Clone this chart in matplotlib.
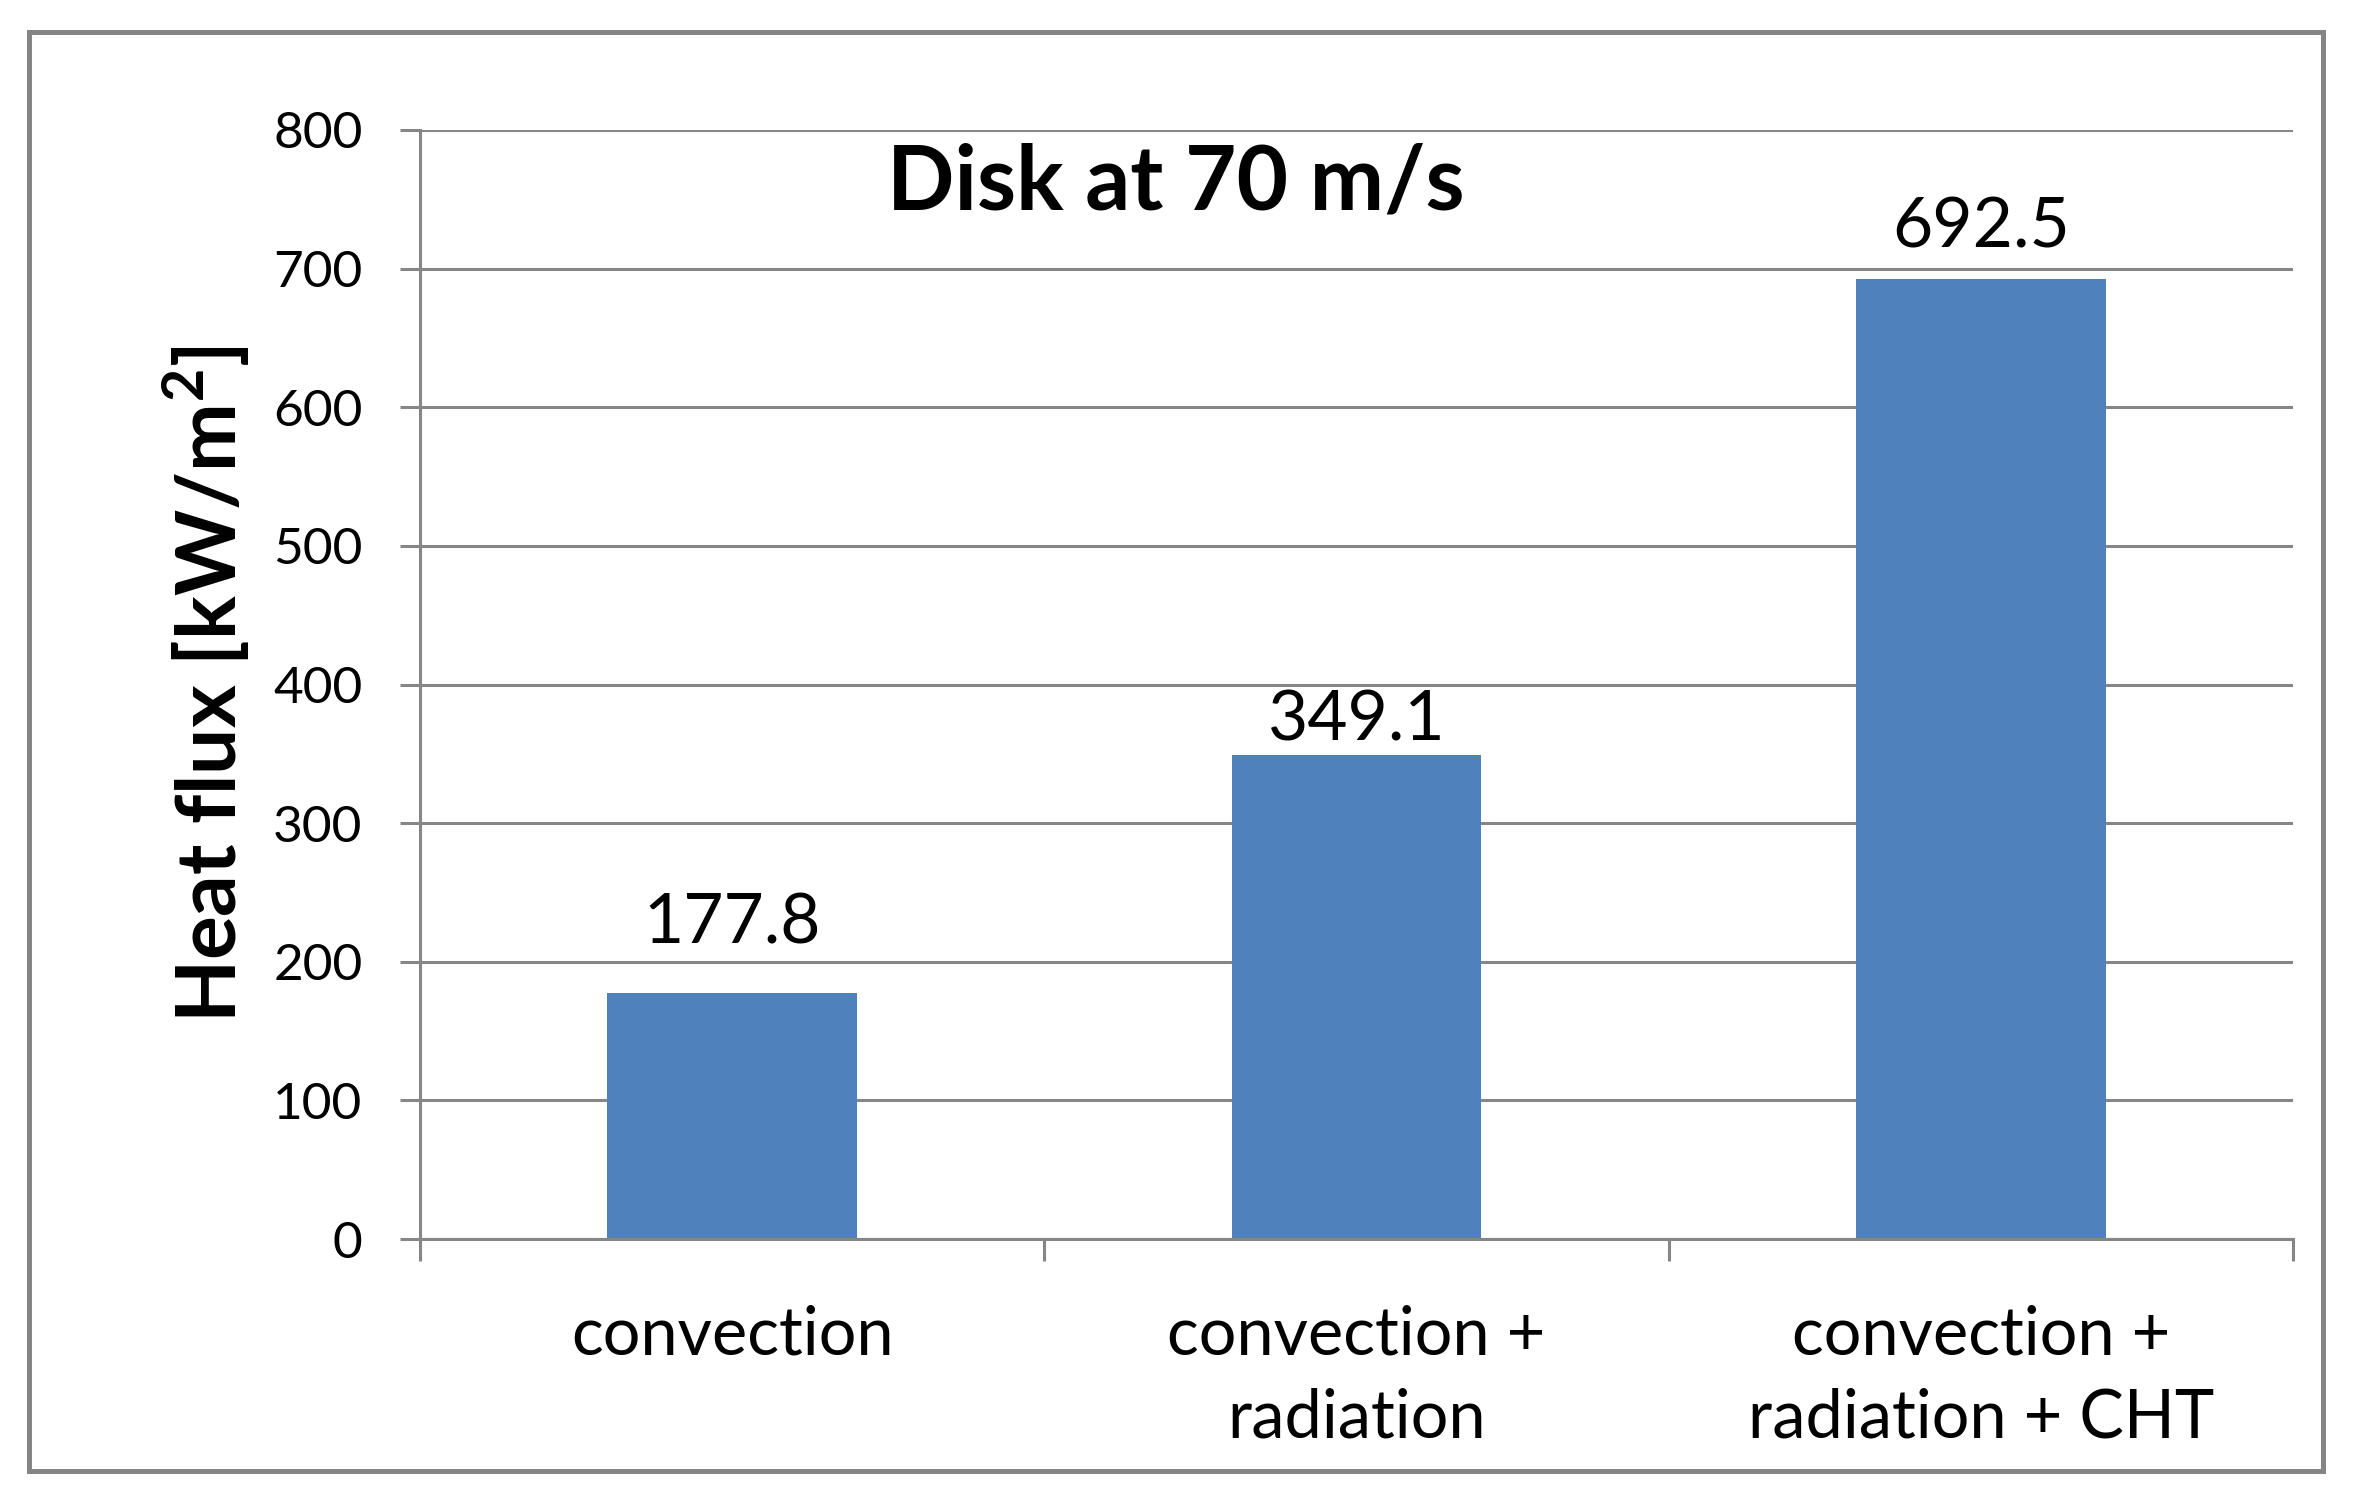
import matplotlib
matplotlib.use("Agg")
import matplotlib.pyplot as plt
from matplotlib.patches import Rectangle

plt.rcParams['font.family'] = ['Lato', 'DejaVu Sans']
plt.rcParams['mathtext.fontset'] = 'custom'
plt.rcParams['mathtext.rm'] = 'Lato'
plt.rcParams['mathtext.bf'] = 'Lato:bold'

categories = ["convection", "convection +\nradiation", "convection +\nradiation + CHT"]
values = [177.8, 349.1, 692.5]
value_labels = ["177.8", "349.1", "692.5"]
yticks = [0, 100, 200, 300, 400, 500, 600, 700, 800]
title = "Disk at 70 m/s"
ylabel = r"Heat flux [kW/m$^{\mathbf{2}}$]"

# per-label vertical offsets (points) of the data labels, as placed in the original
label_offsets = [35.6, 10.8, 22.7]

W, H = 2353, 1503
DPI = 100
fig = plt.figure(figsize=(W / DPI, H / DPI), dpi=DPI)
fig.patch.set_facecolor('white')

grid_c = '#868686'
ax = fig.add_axes([420 / W, 1 - 1239 / H, (2293 - 420) / W, (1239 - 130) / H])
x = list(range(len(categories)))
ax.bar(x, values, width=0.4, color='#4F81BD', zorder=3)
ax.set_xlim(-0.5, len(categories) - 0.5)
ax.set_ylim(0, 800)
ax.set_yticks(yticks)
ax.set_yticklabels([str(t) for t in yticks], fontsize=37)
ax.yaxis.grid(True, color=grid_c, linewidth=2.2, zorder=0)
ax.set_axisbelow(True)
for s in ['top', 'right']:
    ax.spines[s].set_visible(False)
for s in ['left', 'bottom']:
    ax.spines[s].set_color(grid_c)
    ax.spines[s].set_linewidth(2.2)
    ax.spines[s].set_zorder(4)
ax.tick_params(axis='y', direction='out', length=14.4, width=2.2, color=grid_c, pad=27, labelcolor='black')

ax.set_xticks([i - 0.5 for i in range(len(categories) + 1)])
ax.set_xticklabels([])
ax.tick_params(axis='x', which='major', direction='out', length=15.8, width=2.2, color=grid_c)
ax.set_xticks(x, minor=True)
ax.set_xticklabels(categories, minor=True, fontsize=48, linespacing=1.43)
ax.tick_params(axis='x', which='minor', length=0, pad=47)

for xi, v, lab, off in zip(x, values, value_labels, label_offsets):
    ax.annotate(lab, (xi, v), xytext=(0, off), textcoords='offset points',
                ha='center', va='baseline', fontsize=50)

fig.text(1176 / W, 1 - 183 / H, title, ha='center', va='center', fontsize=64, fontweight='bold')
fig.text(206 / W, 1 - 684 / H, ylabel, ha='center', va='center', rotation=90, fontsize=59, fontweight='bold')

fig.patches.append(Rectangle((29 / W, 1 - 1471 / H), (2323 - 29) / W, (1471 - 32) / H,
                             transform=fig.transFigure, fill=False, edgecolor='#858585', linewidth=3.6))

fig.savefig('out.png', dpi=DPI)
